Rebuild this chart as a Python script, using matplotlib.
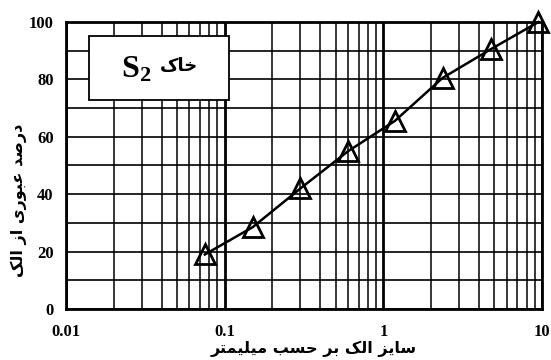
import numpy as np
import matplotlib
matplotlib.use("Agg")
import matplotlib.pyplot as plt
from matplotlib.patches import Rectangle
from matplotlib.ticker import FixedLocator, NullFormatter

# sieve analysis data
sieve_mm = [0.075, 0.15, 0.3, 0.6, 1.18, 2.36, 4.75, 9.5]
passing = [19, 28.5, 42, 55, 65.5, 80.5, 90.5, 100]

x_ticks = [0.01, 0.1, 1, 10]
x_labels = ["0.01", "0.1", "1", "10"]
y_ticks = [0, 20, 40, 60, 80, 100]

xlabel_fa = "سایز الک بر حسب میلیمتر"
ylabel_fa = "درصد عبوری از الک"
soil_fa = "خاک"

# presentation forms: isolated, final, initial, medial
FORMS = {
    "ا": ("\uFE8D", "\uFE8E", None, None),
    "ب": ("\uFE8F", "\uFE90", "\uFE91", "\uFE92"),
    "ت": ("\uFE95", "\uFE96", "\uFE97", "\uFE98"),
    "ح": ("\uFEA1", "\uFEA2", "\uFEA3", "\uFEA4"),
    "خ": ("\uFEA5", "\uFEA6", "\uFEA7", "\uFEA8"),
    "د": ("\uFEA9", "\uFEAA", None, None),
    "ر": ("\uFEAD", "\uFEAE", None, None),
    "ز": ("\uFEAF", "\uFEB0", None, None),
    "س": ("\uFEB1", "\uFEB2", "\uFEB3", "\uFEB4"),
    "ص": ("\uFEB9", "\uFEBA", "\uFEBB", "\uFEBC"),
    "ع": ("\uFEC9", "\uFECA", "\uFECB", "\uFECC"),
    "ل": ("\uFEDD", "\uFEDE", "\uFEDF", "\uFEE0"),
    "م": ("\uFEE1", "\uFEE2", "\uFEE3", "\uFEE4"),
    "و": ("\uFEED", "\uFEEE", None, None),
    "ی": ("\uFBFC", "\uFBFD", "\uFBFE", "\uFBFF"),
    "ک": ("\uFB8E", "\uFB8F", "\uFB90", "\uFB91"),
}


def shape(text):
    # minimal arabic shaping + reversal for display
    out = []
    for i, ch in enumerate(text):
        if ch not in FORMS:
            out.append(ch)
            continue
        prev = text[i - 1] if i > 0 else ""
        nxt = text[i + 1] if i + 1 < len(text) else ""
        iso, fin, ini, med = FORMS[ch]
        join_prev = prev in FORMS and FORMS[prev][2] is not None
        join_next = ini is not None and nxt in FORMS
        if join_prev and join_next:
            out.append(med)
        elif join_prev:
            out.append(fin)
        elif join_next:
            out.append(ini)
        else:
            out.append(iso)
    return "".join(reversed(out))


plt.rcParams["mathtext.fontset"] = "custom"
plt.rcParams["mathtext.bf"] = "Liberation Serif:bold"
plt.rcParams["mathtext.rm"] = "Liberation Serif:bold"

fig = plt.figure(figsize=(5.51, 3.6), dpi=100)
ax = fig.add_axes([66 / 551, 1 - 309 / 360, 476 / 551, 287 / 360])

ax.set_xscale("log")
ax.set_xlim(0.01, 10)
ax.set_ylim(0, 100)

# grid: decades thick, minor 2..9 thin, horizontal every 10
ax.xaxis.set_major_locator(FixedLocator(x_ticks))
ax.set_xticklabels(x_labels)
minor = [d * k for d in [0.01, 0.1, 1] for k in range(2, 10)]
ax.xaxis.set_minor_locator(FixedLocator(minor))
ax.xaxis.set_minor_formatter(NullFormatter())
ax.set_yticks(y_ticks)
ax.set_yticks(np.arange(0, 101, 10), minor=True)

ax.grid(True, which="major", axis="x", color="black", lw=2.0)
ax.grid(True, which="minor", axis="x", color="black", lw=1.1)
ax.grid(True, which="both", axis="y", color="black", lw=1.2)
ax.set_axisbelow(True)

ax.tick_params(which="both", length=0)
ax.tick_params(axis="x", pad=11)
ax.tick_params(axis="y", pad=9)
for lab in ax.get_xticklabels() + ax.get_yticklabels():
    lab.set_fontfamily("Liberation Serif")
    lab.set_fontweight("bold")
    lab.set_fontsize(12)

for sp in ax.spines.values():
    sp.set_linewidth(2.0)

ax.plot(sieve_mm, passing, color="black", lw=1.8, marker="^", ms=15,
        mfc="none", mec="black", mew=2.0, zorder=4, clip_on=False)

# soil label box
ax.add_patch(Rectangle((0.048, 0.728), 0.294, 0.223, transform=ax.transAxes,
                       facecolor="white", edgecolor="black", lw=1.3, zorder=3))
ax.text(0.148, 0.835, r"$\mathbf{S_2}$", transform=ax.transAxes, fontsize=23,
        ha="center", va="center", zorder=5)
ax.text(0.238, 0.845, shape(soil_fa), transform=ax.transAxes,
        family="DejaVu Sans", fontweight="bold", fontsize=13,
        ha="center", va="center", zorder=5)

ax.set_xlabel(shape(xlabel_fa), family="DejaVu Sans", fontweight="bold",
              fontsize=11.5)
ax.xaxis.set_label_coords((314 - 66) / 476, -(341 - 309) / 287)
ax.set_ylabel(shape(ylabel_fa), family="DejaVu Sans", fontweight="bold",
              fontsize=11.5)
ax.yaxis.set_label_coords((27 - 66) / 476, (309 - 200) / 287)

fig.savefig("out.png", dpi=100)
